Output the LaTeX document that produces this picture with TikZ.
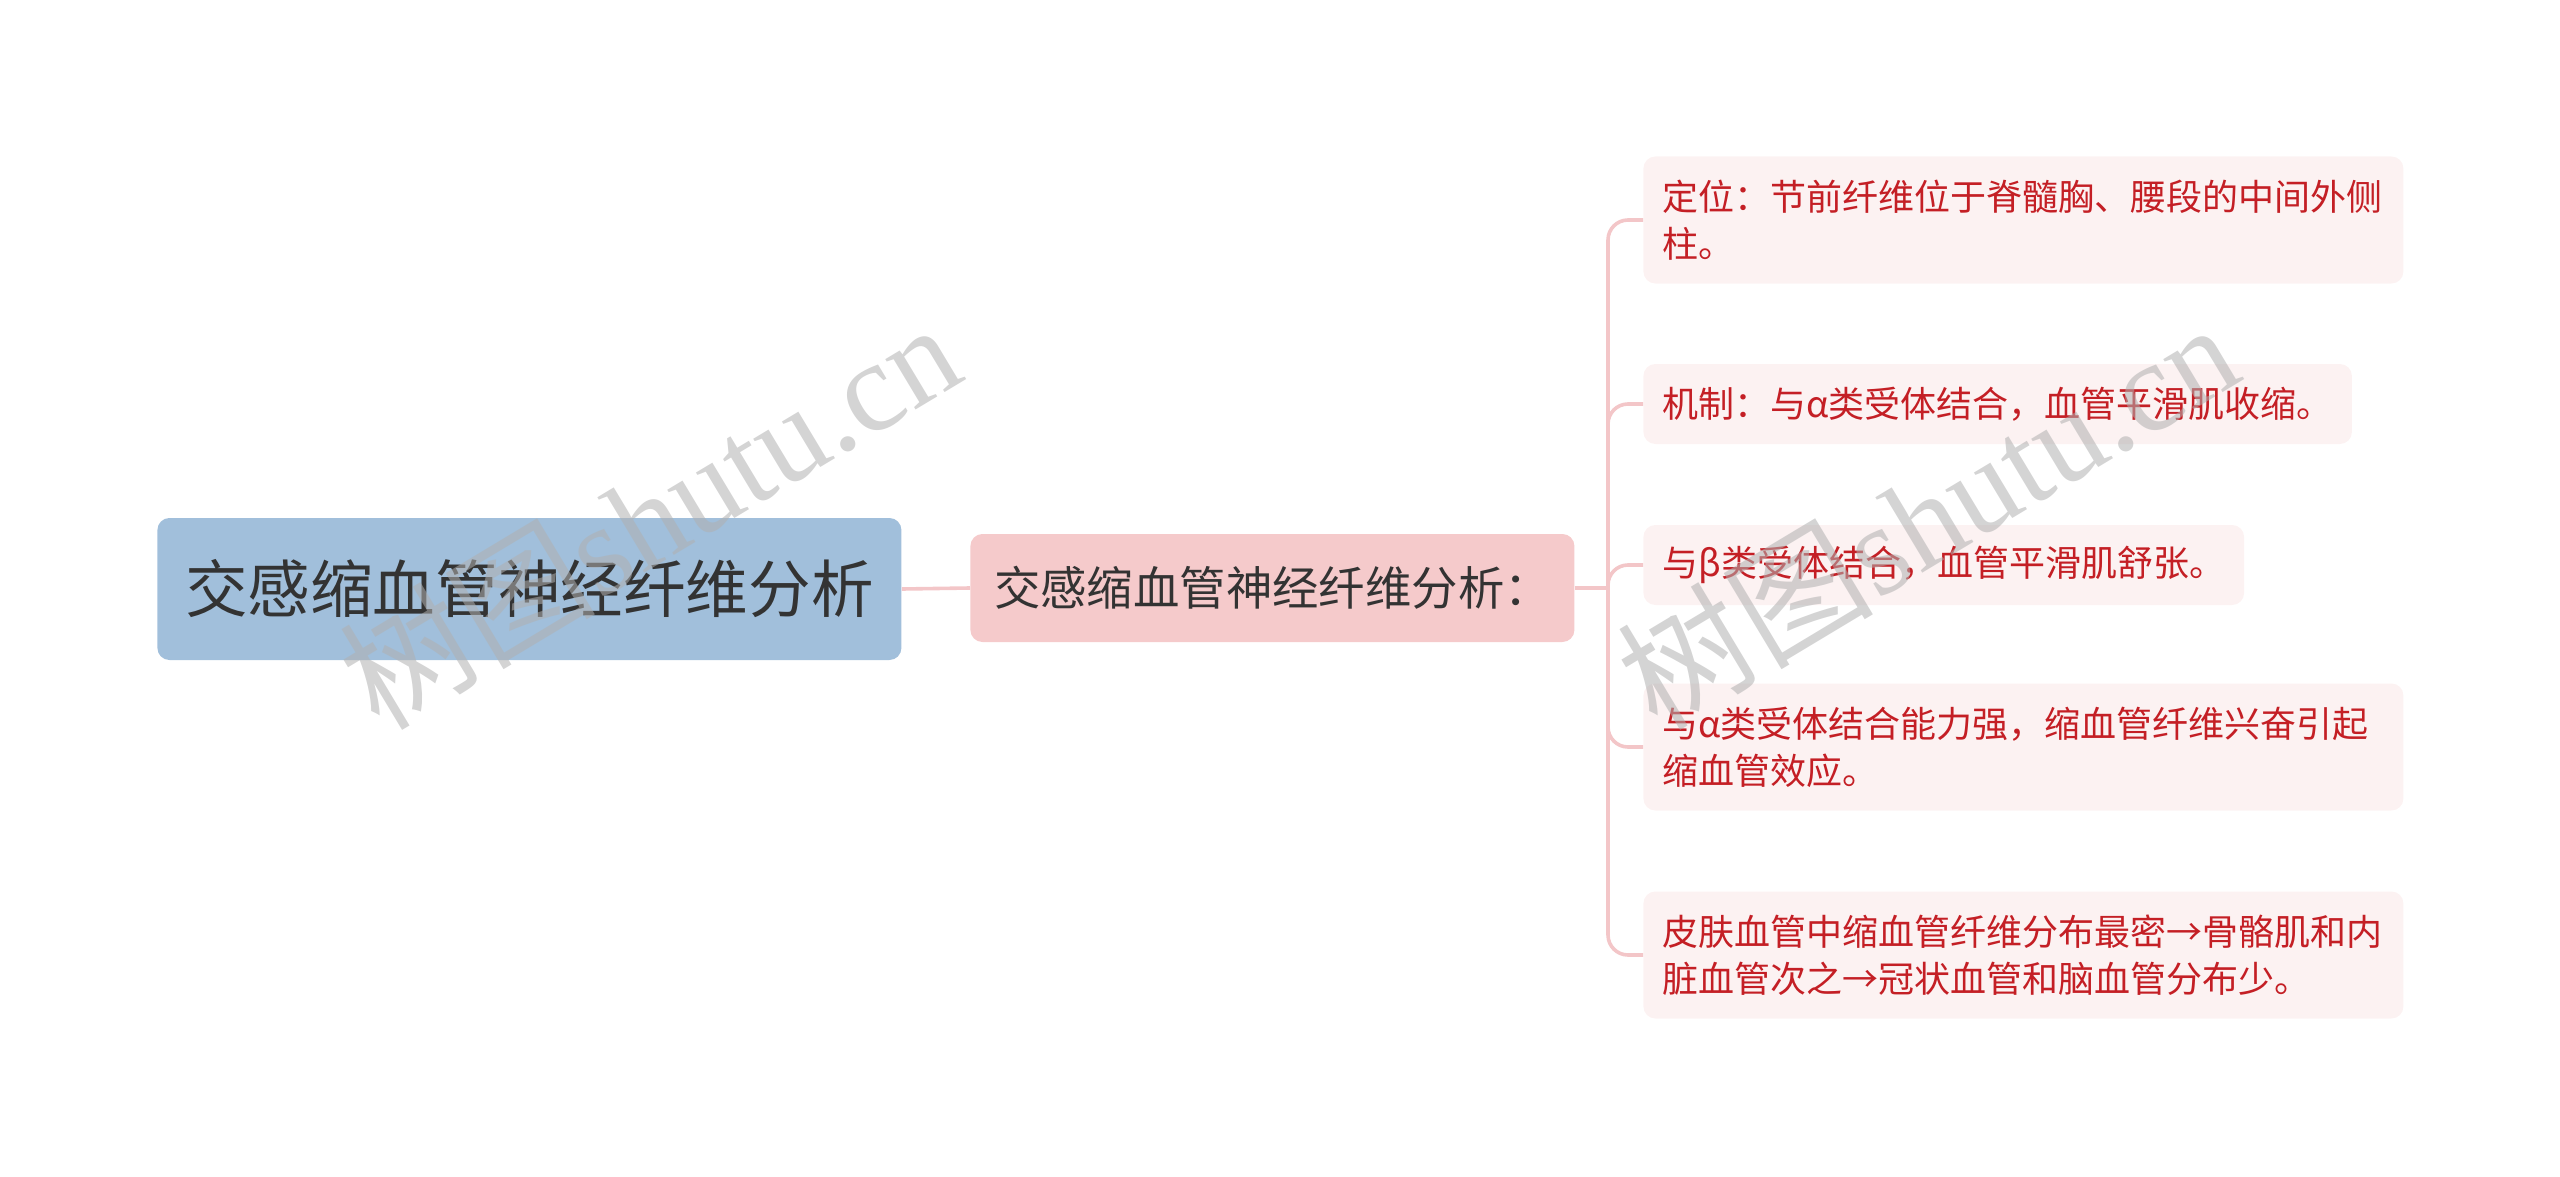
\documentclass[tikz,border=0pt]{standalone}
\usepackage{fontspec}
\newfontfamily\cjk{Noto Sans CJK SC}
\newfontfamily\wmlatin{Liberation Serif}
\definecolor{rootc}{HTML}{A1BFDB}
\definecolor{midc}{HTML}{F5CACB}
\definecolor{leafc}{HTML}{FCF2F2}
\definecolor{textc}{HTML}{333333}
\definecolor{leaftext}{HTML}{C41F25}
\definecolor{linkc}{HTML}{F3C6C8}
\definecolor{wmc}{HTML}{B0B0B0}
\begin{document}
\begin{tikzpicture}[x=0.5pt,y=-0.5pt,
  rootbox/.style={fill=rootc, rounded corners=6pt, minimum width=372pt, minimum height=71pt,
    inner sep=0pt, text=textc, font=\cjk\fontsize{31.3pt}{36pt}\selectfont},
  midbox/.style={fill=midc, rounded corners=6pt, minimum width=302pt, minimum height=54pt,
    inner sep=0pt, text=textc, font=\cjk\fontsize{23.2pt}{27pt}\selectfont},
  leafbox/.style={fill=leafc, rounded corners=6pt, inner xsep=9.5pt, inner ysep=0pt,
    align=left, text=leaftext, font=\cjk\fontsize{18pt}{23.5pt}\selectfont},
  oneline/.style={minimum height=40pt},
  twoline/.style={minimum height=63.5pt, text width=361pt},
  link/.style={draw=linkc, line width=1.8pt},
  branch/.style={draw=linkc, line width=1.8pt, rounded corners=10pt},
  wm/.style={text=wmc, opacity=0.55, inner sep=0pt, font=\fontsize{64pt}{70pt}\selectfont}
]
\useasboundingbox (0,0) rectangle (2560,1177);

\node[rootbox, anchor=west] (root) at (157,589) {交感缩血管神经纤维分析};
\node[midbox, anchor=west] (mid) at (970,588) {交感缩血管神经纤维分析：};

\node[leafbox, twoline, anchor=west] (l1) at (1643,220) {定位：节前纤维位于脊髓胸、腰段的中间外侧\\柱。};
\node[leafbox, oneline, anchor=west] (l2) at (1643,404) {机制：与α类受体结合，血管平滑肌收缩。};
\node[leafbox, oneline, anchor=west] (l3) at (1643,565) {与β类受体结合，血管平滑肌舒张。};
\node[leafbox, twoline, anchor=west] (l4) at (1643,747) {与α类受体结合能力强，缩血管纤维兴奋引起\\缩血管效应。};
\node[leafbox, twoline, anchor=west] (l5) at (1643,955) {皮肤血管中缩血管纤维分布最密→骨骼肌和内\\脏血管次之→冠状血管和脑血管分布少。};

\coordinate (trunk) at (1608,588);
\draw[link] (root.east) -- (mid.west);
\draw[link] (mid.east) -- (trunk);
\foreach \l in {l1,l2,l3,l4,l5}
  \draw[branch] (trunk) |- (\l.west);

\node[wm, rotate=31] (wm1) at (649,514) {{\cjk 树图}{\wmlatin shutu.cn}};
\node[wm, rotate=31] (wm2) at (1927,514) {{\cjk 树图}{\wmlatin shutu.cn}};
\end{tikzpicture}
\end{document}
